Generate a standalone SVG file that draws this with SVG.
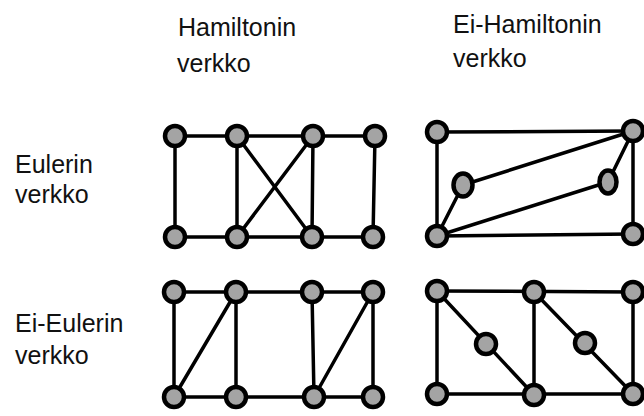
<svg xmlns="http://www.w3.org/2000/svg" width="644" height="416" viewBox="0 0 644 416">
<style>
.lbl{font-family:"Liberation Sans",Arial,Helvetica,sans-serif;font-size:25px;fill:#111}
.e{stroke:#000;stroke-width:3.5;stroke-linecap:round;fill:none}
.n{fill:#a4a4a4;stroke:#000;stroke-width:4.5}
</style>
<rect width="644" height="416" fill="#fff"/>
<g id="labels">
<text class="lbl" x="178" y="36">Hamiltonin</text>
<text class="lbl" x="177" y="72">verkko</text>
<text class="lbl" x="453" y="33">Ei-Hamiltonin</text>
<text class="lbl" x="453" y="67">verkko</text>
<text class="lbl" x="15" y="173">Eulerin</text>
<text class="lbl" x="15" y="203">verkko</text>
<text class="lbl" x="15" y="332">Ei-Eulerin</text>
<text class="lbl" x="15" y="364">verkko</text>
</g>
<g id="connectors">
<line class="e" x1="175" y1="136" x2="375" y2="136"/>
<line class="e" x1="175" y1="237" x2="373" y2="237"/>
<line class="e" x1="175" y1="136" x2="175" y2="237"/>
<line class="e" x1="237" y1="136" x2="237" y2="237"/>
<line class="e" x1="313" y1="136" x2="312" y2="237"/>
<line class="e" x1="375" y1="136" x2="373" y2="237"/>
<line class="e" x1="237" y1="136" x2="312" y2="237"/>
<line class="e" x1="313" y1="136" x2="237" y2="237"/>
<line class="e" x1="437" y1="132" x2="633" y2="131"/>
<line class="e" x1="437" y1="236" x2="633" y2="234"/>
<line class="e" x1="437" y1="132" x2="437" y2="236"/>
<line class="e" x1="633" y1="131" x2="633" y2="234"/>
<line class="e" x1="463" y1="185" x2="633" y2="131"/>
<line class="e" x1="463" y1="185" x2="437" y2="236"/>
<line class="e" x1="608" y1="182" x2="633" y2="131"/>
<line class="e" x1="608" y1="182" x2="437" y2="236"/>
<line class="e" x1="174" y1="292" x2="373" y2="292"/>
<line class="e" x1="174" y1="397" x2="373" y2="397"/>
<line class="e" x1="174" y1="292" x2="174" y2="397"/>
<line class="e" x1="236" y1="292" x2="236" y2="397"/>
<line class="e" x1="312" y1="292" x2="314" y2="397"/>
<line class="e" x1="373" y1="292" x2="373" y2="397"/>
<line class="e" x1="236" y1="292" x2="174" y2="397"/>
<line class="e" x1="373" y1="292" x2="314" y2="397"/>
<line class="e" x1="437" y1="291" x2="633" y2="292"/>
<line class="e" x1="437" y1="394" x2="633" y2="394"/>
<line class="e" x1="437" y1="291" x2="437" y2="394"/>
<line class="e" x1="534" y1="292" x2="534" y2="395"/>
<line class="e" x1="633" y1="292" x2="633" y2="394"/>
<line class="e" x1="437" y1="291" x2="534" y2="395"/>
<line class="e" x1="534" y1="292" x2="633" y2="394"/>
</g>
<g id="g1-n1"><circle class="n" cx="175" cy="136" r="10"/></g>
<g id="g1-n2"><circle class="n" cx="237" cy="136" r="10"/></g>
<g id="g1-n3"><circle class="n" cx="313" cy="136" r="10"/></g>
<g id="g1-n4"><circle class="n" cx="375" cy="136" r="10"/></g>
<g id="g1-n5"><circle class="n" cx="175" cy="237" r="10"/></g>
<g id="g1-n6"><circle class="n" cx="237" cy="237" r="10"/></g>
<g id="g1-n7"><circle class="n" cx="312" cy="237" r="10"/></g>
<g id="g1-n8"><circle class="n" cx="373" cy="237" r="10"/></g>
<g id="g2-n1"><circle class="n" cx="437" cy="132" r="10"/></g>
<g id="g2-n2"><circle class="n" cx="633" cy="131" r="10"/></g>
<g id="g2-n3"><ellipse class="n" cx="463" cy="185" rx="9.5" ry="11.5"/></g>
<g id="g2-n4"><ellipse class="n" cx="608" cy="182" rx="8.5" ry="11.5"/></g>
<g id="g2-n5"><circle class="n" cx="437" cy="236" r="10"/></g>
<g id="g2-n6"><circle class="n" cx="633" cy="234" r="10"/></g>
<g id="g3-n1"><circle class="n" cx="174" cy="292" r="10"/></g>
<g id="g3-n2"><circle class="n" cx="236" cy="292" r="10"/></g>
<g id="g3-n3"><circle class="n" cx="312" cy="292" r="10"/></g>
<g id="g3-n4"><circle class="n" cx="373" cy="292" r="10"/></g>
<g id="g3-n5"><circle class="n" cx="174" cy="397" r="10"/></g>
<g id="g3-n6"><circle class="n" cx="236" cy="397" r="10"/></g>
<g id="g3-n7"><circle class="n" cx="314" cy="397" r="10"/></g>
<g id="g3-n8"><circle class="n" cx="373" cy="397" r="10"/></g>
<g id="g4-n1"><circle class="n" cx="437" cy="291" r="10"/></g>
<g id="g4-n2"><circle class="n" cx="534" cy="292" r="10"/></g>
<g id="g4-n3"><circle class="n" cx="633" cy="292" r="10"/></g>
<g id="g4-n4"><circle class="n" cx="486" cy="344" r="10"/></g>
<g id="g4-n5"><circle class="n" cx="585" cy="343" r="10"/></g>
<g id="g4-n6"><circle class="n" cx="437" cy="394" r="10"/></g>
<g id="g4-n7"><circle class="n" cx="534" cy="395" r="10"/></g>
<g id="g4-n8"><circle class="n" cx="633" cy="394" r="10"/></g>
</svg>
